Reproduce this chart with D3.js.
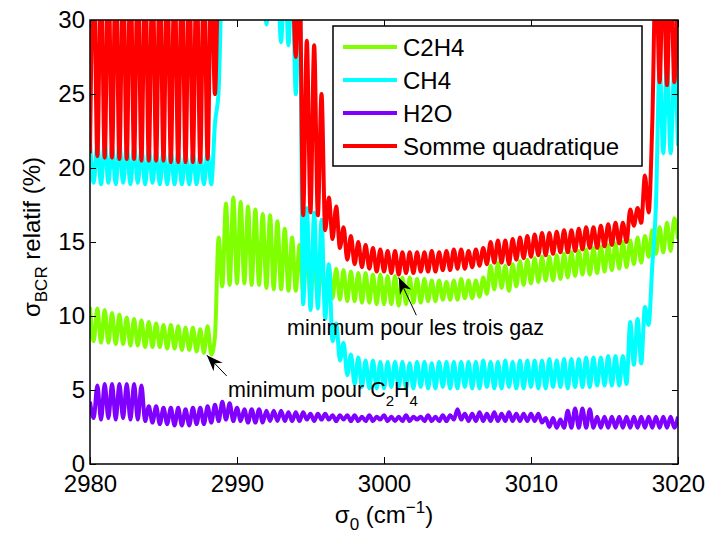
<!DOCTYPE html>
<html>
<head>
<meta charset="utf-8">
<script src="https://cdn.jsdelivr.net/npm/d3@7/dist/d3.min.js"></script>
<style>
  body { margin: 0; background: #fff; }
  text { font-family: "Liberation Sans", Arial, Helvetica, sans-serif; fill: #000; }
</style>
</head>
<body>
<div id="chart"></div>
<script>
// wavenumber grid : 2980 -> 3020 cm-1, one sample every 0.25
var xStart = 2980, xStep = 0.25;

// sigma_BCR relatif (%), 4 samples per cm-1
var c2h4 = [
  10.6, 8.3, 10.5, 8.2,   10.4, 8.2, 10.2, 8.1,   10.1, 8.1, 9.9, 8.0,   9.8, 8.0, 9.7, 7.9,
  9.6, 7.9, 9.5, 7.9,     9.4, 7.8, 9.4, 7.8,     9.3, 7.7, 9.2, 7.7,    9.2, 7.6, 9.1, 7.5,
  9.3, 7.4, 8.6, 15.3,    12.0, 17.6, 12.1, 18.0, 12.2, 17.7, 12.2, 17.4, 12.1, 17.2, 12.1, 16.9,
  11.9, 16.8, 11.8, 16.4, 11.8, 15.9, 11.7, 15.3, 11.7, 14.8, 11.6, 14.3, 11.5, 13.6, 11.4, 13.4,
  11.3, 13.3, 11.2, 13.2, 11.1, 13.1, 11.0, 13.0, 11.0, 12.9, 10.9, 12.9, 10.9, 12.8, 10.8, 12.8,
  10.8, 12.7, 10.8, 12.7, 10.7, 12.6, 10.8, 12.6, 10.9, 12.5, 10.9, 12.5, 11.0, 12.4, 11.0, 12.4,
  11.1, 12.3, 11.1, 12.4, 11.1, 12.5, 11.2, 12.4, 11.2, 12.4, 11.3, 12.6, 11.5, 13.4, 11.8, 13.6,
  11.9, 13.4, 11.7, 13.5, 12.0, 13.7, 12.1, 13.8, 12.2, 13.9, 12.3, 14.0, 12.4, 14.0, 12.4, 14.1,
  12.5, 14.2, 12.6, 14.3, 12.7, 14.4, 12.8, 14.5, 12.8, 14.6, 12.9, 14.7, 13.0, 14.8, 13.1, 14.9,
  13.2, 15.0, 13.3, 15.1, 13.5, 15.3, 13.6, 15.4, 14.0, 15.8, 14.2, 16.0, 14.3, 16.3, 14.4, 16.6,
  15.2
];
var ch4 = [
  21.8, 19.0, 21.6, 18.9, 21.7, 19.0, 21.5, 18.9, 21.6, 19.0, 21.4, 18.9, 21.5, 19.0, 21.3, 18.9,
  21.3, 19.0, 21.2, 18.9, 21.2, 18.9, 21.1, 18.9, 21.1, 18.9, 21.0, 18.9, 21.0, 18.9, 20.9, 18.9,
  21.1, 18.9, 23.0, 25.2, 34, 36, 34, 36,         34, 36, 34, 36,         34, 36, 34, 36,
  29.7, 34, 36, 34,       28.5, 34, 28.3, 34,     25.0, 34, 10.8, 17.3,   10.4, 17.0, 10.5, 16.5,
  9.8, 13.5, 8.3, 9.5,    7.0, 8.2, 6.0, 7.4,     5.4, 7.2, 5.2, 7.0,     5.1, 7.0, 5.1, 6.9,
  5.1, 6.9, 5.2, 6.9,     5.2, 6.9, 5.1, 6.8,     5.1, 6.9, 5.2, 6.9,     5.1, 6.8, 5.1, 6.9,
  5.2, 6.9, 5.1, 6.9,     5.1, 6.9, 5.2, 6.9,     5.1, 6.9, 5.1, 7.0,     5.2, 6.9, 5.1, 6.9,
  5.1, 7.0, 5.2, 6.9,     5.1, 7.0, 5.1, 7.0,     5.2, 7.0, 5.1, 7.0,     5.1, 7.1, 5.2, 7.0,
  5.2, 7.1, 5.1, 7.1,     5.2, 7.1, 5.2, 7.2,     5.2, 7.2, 5.3, 7.2,     5.3, 7.3, 5.3, 7.3,
  5.3, 7.3, 5.4, 9.6,     6.7, 9.8, 6.8, 10.6,    9.4, 13.4, 17.5, 27.0,  21.0, 27.2, 21.0, 26.8,
  21.5
];
var h2o = [
  4.2, 3.1, 5.3, 3.0,     5.4, 3.1, 5.4, 3.0,     5.4, 3.1, 5.4, 3.0,     5.4, 3.0, 5.3, 2.9,
  3.9, 2.8, 3.9, 2.7,     3.8, 2.7, 3.8, 2.6,     3.8, 2.6, 3.7, 2.6,     3.8, 2.7, 3.8, 2.7,
  3.9, 2.8, 4.0, 2.9,     4.2, 3.0, 4.1, 2.9,     3.8, 2.9, 3.7, 2.8,     3.7, 2.8, 3.7, 2.8,
  3.6, 2.9, 3.6, 2.9,     3.6, 2.9, 3.5, 2.9,     3.5, 2.9, 3.5, 3.0,     3.4, 2.9, 3.4, 3.0,
  3.4, 3.0, 3.3, 2.9,     3.3, 3.0, 3.3, 2.9,     3.3, 2.9, 3.2, 2.9,     3.3, 2.9, 3.2, 3.0,
  3.3, 2.9, 3.2, 2.9,     3.2, 2.9, 3.3, 2.9,     3.2, 3.0, 3.2, 2.9,     3.3, 2.9, 3.2, 2.9,
  3.3, 2.9, 3.3, 3.0,     3.7, 3.0, 3.4, 2.9,     3.4, 2.9, 3.5, 2.9,     3.4, 2.9, 3.5, 2.9,
  3.4, 2.9, 3.5, 2.9,     3.4, 2.9, 3.4, 2.9,     3.4, 2.9, 3.4, 2.8,     3.1, 2.5, 3.1, 2.45,
  3.0, 2.45, 3.6, 2.45,   3.75, 2.45, 3.75, 2.45, 3.7, 2.45, 3.2, 2.45,   3.2, 2.45, 3.2, 2.45,
  3.2, 2.45, 3.2, 2.45,   3.2, 2.45, 3.2, 2.45,   3.2, 2.45, 3.2, 2.45,   3.2, 2.45, 3.2, 2.45,
  3.2
];
var somme = [
  21.0, 34, 20.8, 34,     20.7, 34, 20.7, 34,     20.6, 34, 20.6, 34,     20.6, 34, 20.5, 34,
  20.5, 34, 20.5, 34,     20.5, 34, 20.4, 34,     20.4, 34, 20.4, 34,     20.4, 34, 20.4, 34,
  20.6, 34, 25.0, 34,     36, 34, 36, 34,         36, 34, 36, 34,         36, 34, 36, 34,
  36, 34, 36, 34,         36, 34, 36, 34,         27.5, 34, 16.8, 28.6,   17.0, 28.3, 16.8, 25.0,
  15.8, 18.0, 15.2, 17.4, 14.6, 16.0, 13.8, 15.4, 13.5, 15.0, 13.3, 14.8, 13.2, 14.6, 13.0, 14.5,
  13.0, 14.4, 12.9, 14.4, 12.8, 14.3, 12.9, 14.3, 12.9, 14.3, 13.0, 14.3, 13.0, 14.4, 13.0, 14.3,
  13.1, 14.4, 13.1, 14.5, 13.2, 14.5, 13.2, 14.4, 13.3, 14.5, 13.4, 14.6, 13.5, 15.0, 13.6, 15.1,
  13.6, 15.1, 13.5, 15.2, 13.8, 15.3, 13.9, 15.4, 14.0, 15.5, 14.1, 15.6, 14.1, 15.6, 14.2, 15.7,
  14.3, 15.8, 14.3, 15.8, 14.4, 15.9, 14.5, 16.0, 14.6, 16.0, 14.6, 16.1, 14.7, 16.2, 14.8, 16.3,
  14.9, 16.3, 15.0, 17.2, 16.1, 17.3, 16.3, 19.5, 17.0, 23.0, 34, 25.8,   34, 25.6, 34, 25.8,
  34
];

var seriesNames = ["C2H4", "CH4", "H2O", "Somme quadratique"];
var seriesColors = ["#80ff00", "#00ffff", "#7f00ff", "#ff0000"];
var xTicks = [2980, 2990, 3000, 3010, 3020];
var yTicks = [0, 5, 10, 15, 20, 25, 30];

// annotations : [tail x, tail y, tip x, tip y] in data units
var arrowC2H4 = [2989.3, 5.95, 2987.95, 7.35];
var arrowAll = [3002.2, 10.05, 3001.0, 12.6];

var margin = { top: 20, left: 90, bottom: 77, right: 28 };
var W = 706, H = 541;
var width = W - margin.left - margin.right;
var height = H - margin.top - margin.bottom;

var svg = d3.select("#chart").append("svg")
    .attr("width", W)
    .attr("height", H);

var x = d3.scaleLinear().domain([2980, 3020]).range([margin.left, margin.left + width]);
var y = d3.scaleLinear().domain([0, 30]).range([margin.top + height, margin.top]);

svg.append("clipPath").attr("id", "plotclip")
  .append("rect")
    .attr("x", margin.left).attr("y", margin.top)
    .attr("width", width).attr("height", height);

var line = d3.line()
    .x(function(d, i) { return x(xStart + i * xStep); })
    .y(function(d) { return y(d); })
    .curve(d3.curveMonotoneX);

var allSeries = [c2h4, ch4, h2o, somme];

svg.append("g").attr("clip-path", "url(#plotclip)")
  .selectAll("path")
  .data(allSeries)
  .enter().append("path")
    .attr("d", line)
    .attr("fill", "none")
    .attr("stroke", function(d, i) { return seriesColors[i]; })
    .attr("stroke-width", 4)
    .attr("stroke-linejoin", "round");

// axes (ticks inside, box on)
var fs = 24;
var xAxisB = d3.axisBottom(x).tickValues(xTicks).tickFormat(d3.format("d"))
    .tickSizeInner(-7).tickSizeOuter(0).tickPadding(11);
var xAxisT = d3.axisTop(x).tickValues(xTicks).tickSizeInner(-7).tickSizeOuter(0).tickFormat("");
var yAxisL = d3.axisLeft(y).tickValues(yTicks).tickFormat(d3.format("d"))
    .tickSizeInner(-6).tickSizeOuter(0).tickPadding(5);
var yAxisR = d3.axisRight(y).tickValues(yTicks).tickSizeInner(-6).tickSizeOuter(0).tickFormat("");

function styleAxis(g) {
  g.select(".domain").remove();
  g.selectAll(".tick line").attr("stroke", "#000").attr("stroke-width", 1);
  g.selectAll(".tick text").attr("font-size", fs).attr("font-family", "Liberation Sans, Arial, sans-serif");
}

svg.append("g").attr("transform", "translate(0," + (margin.top + height) + ")").call(xAxisB).call(styleAxis);
svg.append("g").attr("transform", "translate(0," + margin.top + ")").call(xAxisT).call(styleAxis);
svg.append("g").attr("transform", "translate(" + margin.left + ",0)").call(yAxisL).call(styleAxis);
svg.append("g").attr("transform", "translate(" + (margin.left + width) + ",0)").call(yAxisR).call(styleAxis);

svg.append("rect")
    .attr("x", margin.left).attr("y", margin.top)
    .attr("width", width).attr("height", height)
    .attr("fill", "none").attr("stroke", "#000").attr("stroke-width", 1.5);

// axis labels
var xl = svg.append("text")
    .attr("x", margin.left + width / 2).attr("y", 523)
    .attr("text-anchor", "middle").attr("font-size", fs);
xl.append("tspan").text("σ");
xl.append("tspan").attr("font-size", 17).attr("dy", 7).text("0");
xl.append("tspan").attr("dy", -7).text(" (cm");
xl.append("tspan").attr("font-size", 17).attr("dy", -10).text("−1");
xl.append("tspan").attr("dy", 10).text(")");

var yl = svg.append("text")
    .attr("transform", "translate(40,237) rotate(-90)")
    .attr("text-anchor", "middle").attr("font-size", fs);
yl.append("tspan").text("σ");
yl.append("tspan").attr("font-size", 17).attr("dy", 7).text("BCR");
yl.append("tspan").attr("dy", -7).text(" relatif (%)");

// legend
var leg = svg.append("g").attr("transform", "translate(333,26)");
leg.append("rect")
    .attr("width", 309).attr("height", 140)
    .attr("fill", "#fff").attr("stroke", "#000").attr("stroke-width", 1.5);
var row = leg.selectAll(".row")
    .data(seriesNames)
  .enter().append("g")
    .attr("class", "row")
    .attr("transform", function(d, i) { return "translate(0," + (21 + i * 33) + ")"; });
row.append("line")
    .attr("x1", 10).attr("x2", 64)
    .attr("stroke", function(d, i) { return seriesColors[i]; })
    .attr("stroke-width", 4);
row.append("text")
    .attr("x", 70).attr("y", 8.5)
    .attr("font-size", fs)
    .text(function(d) { return d; });

// annotations
svg.append("defs").append("marker")
    .attr("id", "head")
    .attr("markerUnits", "userSpaceOnUse")
    .attr("markerWidth", 20).attr("markerHeight", 20)
    .attr("viewBox", "-14 -7 16 14")
    .attr("refX", 0).attr("refY", 0)
    .attr("orient", "auto")
  .append("path")
    .attr("d", "M0,0 L-13,-5 L-9,0 L-13,5 Z")
    .attr("fill", "#000");

[arrowC2H4, arrowAll].forEach(function(a) {
  svg.append("line")
      .attr("x1", x(a[0])).attr("y1", y(a[1]))
      .attr("x2", x(a[2])).attr("y2", y(a[3]))
      .attr("stroke", "#000").attr("stroke-width", 1)
      .attr("marker-end", "url(#head)");
});

var t1 = svg.append("text")
    .attr("x", 228).attr("y", 397).attr("font-size", 21.5);
t1.append("tspan").text("minimum pour C");
t1.append("tspan").attr("font-size", 15).attr("dy", 9).text("2");
t1.append("tspan").attr("dy", -9).text("H");
t1.append("tspan").attr("font-size", 15).attr("dy", 9).text("4");

svg.append("text")
    .attr("x", 287).attr("y", 335).attr("font-size", 21.5)
    .text("minimum pour les trois gaz");
</script>
</body>
</html>
